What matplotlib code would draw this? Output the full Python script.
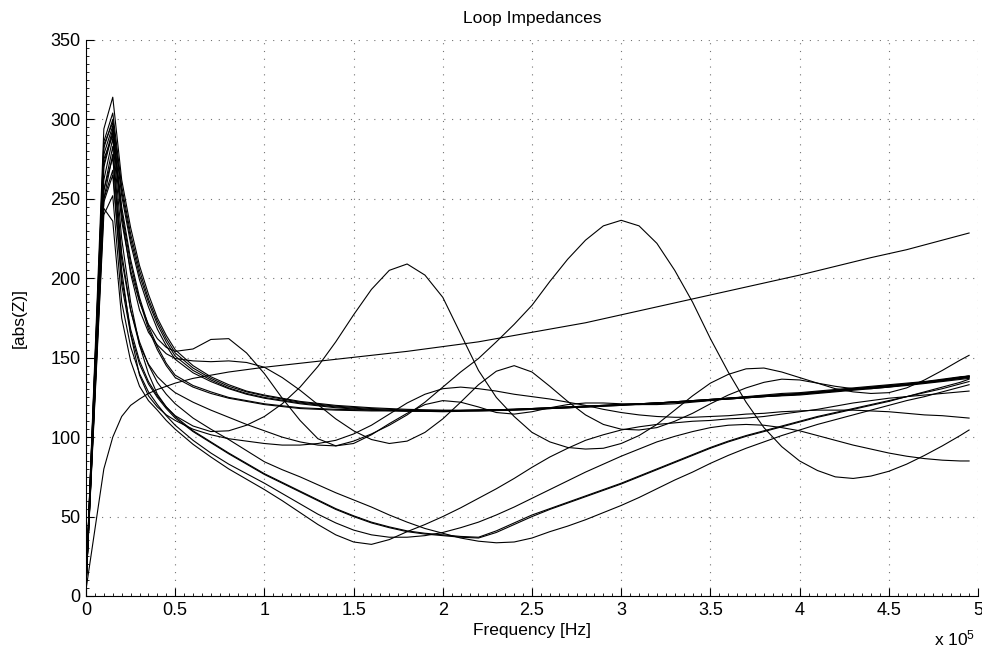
import matplotlib
matplotlib.use("Agg")
import matplotlib.pyplot as plt
from matplotlib.ticker import MultipleLocator, FuncFormatter

plt.rcParams['font.family'] = ['Liberation Sans', 'DejaVu Sans']
plt.rcParams['mathtext.fontset'] = 'custom'
plt.rcParams['mathtext.rm'] = 'Liberation Sans'
plt.rcParams['mathtext.it'] = 'Liberation Sans'

# Frequency samples [Hz]: a medium grid for the smooth loops, a fine grid for loops with ripples
freq_mid_hz = [0, 10000, 15000, 20000, 25000, 30000, 35000, 40000, 45000, 50000,
               60000, 70000, 80000, 90000, 100000,
               120000, 140000, 160000, 180000, 200000, 220000, 240000, 260000, 280000, 300000,
               320000, 340000, 360000, 380000, 400000, 420000, 440000, 460000, 480000,
               495000]
freq_fine_hz = [0, 10000, 15000, 20000, 25000, 30000, 35000, 40000, 45000, 50000,
                60000, 70000, 80000, 90000,
                100000, 110000, 120000, 130000, 140000, 150000, 160000, 170000, 180000, 190000,
                200000, 210000, 220000, 230000, 240000, 250000, 260000, 270000, 280000, 290000,
                300000, 310000, 320000, 330000, 340000, 350000, 360000, 370000, 380000, 390000,
                400000, 410000, 420000, 430000, 440000, 450000, 460000, 470000, 480000, 490000,
                495000]

# |Z| on freq_mid_hz
z_rising = [4, 80, 100, 113, 120, 124, 127.5, 130, 132, 134,
            137, 139, 141, 142.5, 144,
            146.5, 149, 151.5, 154, 157, 160, 164, 168, 172, 177, 182, 187, 192, 197, 202, 207.5, 213, 218, 224,
            228.5]
z_plain_1 = [7, 294, 314, 262, 232, 208, 190, 175, 164, 155,
             145, 138, 133, 129, 126.5,
             122.5, 120, 118.5, 117.5, 117, 117, 117.5, 118.5, 119.5, 120.5, 121.5, 123, 124.5, 126, 127, 129, 131, 133, 135.5,
             137.5]
z_plain_2 = [7, 286, 304, 258, 228, 205, 187, 173, 162, 153,
             143.5, 137, 132, 128.5, 126,
             122, 119.5, 118, 117, 116.5, 116.5, 117, 118, 119, 120, 121, 122.5, 124, 125.5, 126.5, 128.5, 130.5, 132.5, 135,
             137]
z_plain_3 = [7, 282, 300, 255, 225, 202, 185, 171, 160, 151,
             142, 136, 131, 127.5, 125,
             121.5, 119, 117.5, 116.5, 116, 116.5, 117, 118, 119, 120, 121.5, 123, 124.5, 126, 127.5, 129.5, 131.5, 133.5, 136,
             138.5]
z_plain_4 = [7, 284, 298, 252, 222, 199, 182, 168, 157.5, 149,
             140.5, 135, 130.5, 127, 124.5,
             121, 118.5, 117, 116.5, 116.5, 117, 117.5, 118.5, 119.5, 120.5, 121.5, 122.5, 124, 125.5, 127, 129, 131, 133, 135.5,
             138]
z_plain_5 = [7, 278, 296, 245, 212, 188, 170, 157, 146.5, 139,
             132.5, 128.5, 125, 123, 121,
             118.5, 117.5, 117, 116.5, 116.5, 117, 117.5, 118, 119, 120.5, 121.5, 122.5, 124, 125.5, 127, 129, 131, 133, 135.5,
             138]
z_plain_6 = [7, 270, 292, 242, 209, 186, 168, 155, 145, 137.5,
             131.5, 127.5, 124.5, 122.5, 120.5,
             118, 117, 116.5, 116.5, 116.5, 117, 117.5, 118.5, 119.5, 120.5, 121.5, 123, 124.5, 126, 127.5, 129.5, 131.5, 133.5, 136,
             138.5]

# |Z| on freq_fine_hz
z_tap_a = [6, 275, 290, 236, 205, 185, 171, 162, 156.5, 154,
           155.5, 161.5, 162, 153,
           140, 124.5, 110.5, 99, 94.5, 96, 101.5, 108.5, 115, 120.5,
           123, 122, 119, 115.5, 114.5, 116, 118.5, 120.5, 121.5, 121.5,
           121, 120.5, 120.5, 121, 122, 123, 124.5, 125.5, 126.5, 127.5,
           128, 129, 130, 131, 132, 133, 134, 135, 136.5, 138,
           138.5]
z_tap_b = [6, 272, 294, 240, 203, 180, 166, 158, 152.5, 149.5,
           148, 147.5, 148, 147,
           144, 137.5, 129.5, 120.5, 111.5, 104, 98.5, 96, 97.5, 103,
           111.5, 122, 133, 141.5, 145, 141, 132, 122.5, 114, 108,
           105, 104.5, 106, 110, 115, 121, 126.5, 131, 134.5, 136.5,
           136, 134, 132, 130.5, 130.5, 131.5, 133, 134.5, 136, 137.5,
           138]
z_tap_c = [6, 262, 288, 225, 185, 158, 140, 127, 119, 113.5,
           107, 103.5, 104, 107.5,
           113, 121, 131.5, 144.5, 160, 177, 193, 205, 209, 202,
           188, 165, 142, 125, 113, 103, 97, 93.5, 92.5, 93,
           96, 101, 108, 117, 126, 134, 139.5, 143, 143.5, 141,
           137.5, 134, 130.5, 128.5, 127.5, 128, 131, 136, 142, 148.5,
           151.5]
z_tap_d = [6, 255, 283, 216, 180, 158, 146, 138, 132.5, 128,
           122, 117, 112.5, 108,
           104, 100, 97, 95, 94.5, 97.5, 102, 107.5, 114, 122,
           131.5, 141, 149.5, 160, 171, 183, 198, 212, 224, 233,
           236.5, 233, 222, 205, 185, 162, 141, 122, 106, 94,
           85, 79, 75, 74, 75.5, 78.5, 83, 88.5, 94.5, 101,
           104.5]
z_tap_e = [6, 250, 278, 205, 165, 139, 126, 119, 114, 110.5,
           105, 101.5, 99, 97.5,
           96, 95, 95, 96, 98, 102, 107.5, 114.5, 121.5, 127,
           130.5, 131.5, 130.5, 129, 127, 125.5, 124, 122, 120, 117.5,
           115.5, 114, 113, 112.5, 112.5, 113, 113.5, 114.5, 115, 116,
           116.5, 117, 117, 117, 116.5, 116, 115, 114, 113.5, 112.5,
           112]
z_long_1 = [6, 244, 236, 175, 148, 132, 123, 117, 110.5, 105,
            95.5, 87.5, 80, 73.5,
            67, 60, 52.5, 45, 38.5, 34, 32.5, 35.5, 40.5, 45,
            50, 55.5, 61.5, 67.5, 74, 81, 87.5, 93, 98, 101.5,
            104.5, 106.5, 108, 109, 110, 110.5, 111.5, 112, 113, 114.5,
            116, 117.5, 119.5, 121.5, 123, 124.5, 125.5, 126.5, 127.5, 128.5,
            129]
z_long_2 = [6, 240, 252, 185, 157, 140, 128.5, 120.5, 113.5, 107.5,
            98, 90, 83, 77,
            71, 64.5, 58, 51.5, 46, 41.5, 38.5, 37, 37, 38,
            40, 43, 46.5, 51, 56, 61.5, 67, 72.5, 78, 83,
            88, 92.5, 97, 100.5, 103.5, 106, 107.5, 108, 107.5, 106,
            104, 101, 98, 95, 92.5, 90, 88, 86.5, 85.5, 85,
            85]
z_long_3 = [6, 250, 268, 200, 168, 148, 135, 126, 119, 113,
            104, 97, 90, 83.5,
            77, 71.5, 66, 60.5, 55, 50.5, 46.5, 43.5, 41, 39.5,
            38.5, 37.5, 37, 41, 46, 51, 55, 59, 63, 67,
            71, 75.5, 80, 84.5, 89, 93.5, 97.5, 101, 104, 107,
            110, 113, 115.5, 118, 120.5, 123, 125.5, 128, 130.5, 133.5,
            135]
z_long_4 = [6, 248, 265, 196, 165, 146, 133.5, 125, 118, 112,
            103.5, 96.5, 89.5, 83,
            76.5, 71, 65.5, 60, 54.5, 50, 46, 43, 40.5, 39,
            38, 37, 36.5, 40, 45, 50, 54.5, 58.5, 62.5, 66.5,
            70.5, 75, 79.5, 84, 88.5, 93, 97, 100.5, 103.5, 106.5,
            109.5, 112.5, 115, 117.5, 120, 122.5, 125.5, 128.5, 131.5, 134.5,
            136.5]
z_long_5 = [6, 256, 276, 212, 180, 160, 145.5, 134.5, 127, 121,
            112, 105, 98.5, 91.5,
            84.5, 79.5, 75, 70, 65, 60.5, 56, 51, 46.5, 42.5,
            39.5, 36.5, 34.5, 33.5, 34, 36.5, 40.5, 44, 48, 52.5,
            57, 62, 67.5, 73, 78, 83.5, 88.5, 93, 97, 101,
            104.5, 108, 111, 114, 117, 120, 123, 125.5, 128.5, 131.5,
            133]

mid_loops = [z_rising, z_plain_1, z_plain_2, z_plain_3, z_plain_4, z_plain_5, z_plain_6]
fine_loops = [z_tap_a, z_tap_b, z_tap_c, z_tap_d, z_tap_e,
              z_long_1, z_long_2, z_long_3, z_long_4, z_long_5]

y_ticks = [0, 50, 100, 150, 200, 250, 300, 350]
x_ticks = [0, 50000, 100000, 150000, 200000, 250000, 300000, 350000, 400000, 450000, 500000]

fig = plt.figure(figsize=(9.82, 6.49), dpi=100)
ax = fig.add_axes([86 / 982, 53 / 649, 892 / 982, 556 / 649])

for z in mid_loops:
    ax.plot(freq_mid_hz, z, color='black', linewidth=0.8, solid_joinstyle='round')
for z in fine_loops:
    ax.plot(freq_fine_hz, z, color='black', linewidth=0.8, solid_joinstyle='round')

ax.set_xlim(0, 500000)
ax.set_ylim(0, 350)
ax.set_xticks(x_ticks)
ax.set_yticks(y_ticks)
ax.xaxis.set_major_formatter(FuncFormatter(lambda v, p: '%g' % (v / 1e5)))
ax.xaxis.set_minor_locator(MultipleLocator(5000))
ax.yaxis.set_minor_locator(MultipleLocator(5))

ax.grid(True, which='major', color='0.45', linestyle=(0, (1, 6)), linewidth=0.8)
for side in ('top', 'right'):
    ax.spines[side].set_visible(False)
for side in ('left', 'bottom'):
    ax.spines[side].set_linewidth(0.8)

ax.tick_params(which='major', direction='in', length=6, width=0.8, labelsize=13,
               top=False, right=False, pad=4)
ax.tick_params(which='minor', direction='in', length=2.5, width=0.6, top=False, right=False)

ax.set_title('Loop Impedances', fontsize=12.5, pad=12)
ax.set_xlabel('Frequency [Hz]', fontsize=12.5, labelpad=3)
ax.set_ylabel('[abs(Z)]', fontsize=12.5, labelpad=17)
ax.text(0.997, -0.088, r'x 10$^{5}$', transform=ax.transAxes, ha='right', va='baseline', fontsize=12.5)

fig.savefig('out.png', dpi=100)
